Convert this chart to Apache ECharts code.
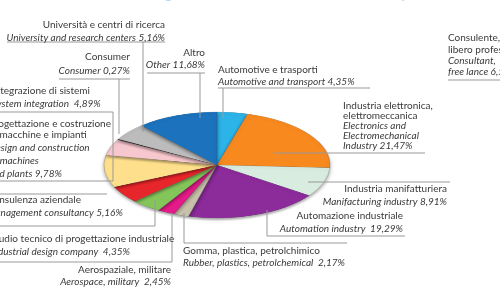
<!DOCTYPE html>
<html>
<head>
<meta charset="utf-8">
<script src="https://cdn.jsdelivr.net/npm/echarts@6/dist/echarts.min.js"></script>
<style>
  html, body { margin: 0; padding: 0; background: #fff; }
  #wrap { position: relative; width: 500px; height: 291px; overflow: hidden; }
  /* pie drawn round, then flattened to look tilted */
  #pie { position: absolute; left: 0; top: 0; width: 500px; height: 291px;
         transform-origin: 217px 165px; transform: scaleY(0.47); }
  #lab { position: absolute; left: 0; top: 0; width: 500px; height: 291px; }
</style>
</head>
<body>
<div id="wrap">
  <div id="pie"></div>
  <div id="lab"></div>
</div>
<script>
// slices, clockwise from 12 o'clock
var categories = ['Automotive e trasporti', 'Industria elettronica, elettromeccanica',
  'Industria manifatturiera', 'Automazione industriale', 'Gomma, plastica, petrolchimico',
  'Aerospaziale, militare', 'Studio tecnico di progettazione industriale', 'Consulenza aziendale',
  'Progettazione e costruzione di macchine e impianti', 'Integrazione di sistemi', 'Consumer',
  'Università e centri di ricerca', 'Altro'];
var values = [4.35, 21.47, 8.91, 19.29, 2.17, 2.45, 4.35, 5.16, 9.78, 4.89, 0.27, 5.16, 11.68];
var colors = ['#2cb4e8', '#f7891f', '#d8ece0', '#8c2b9a', '#c9c2ab', '#e41b89', '#84c55a',
  '#e7262b', '#fddf8c', '#f7c7ce', '#444444', '#bcbcbc', '#1c72bd'];

// label text per slice (italian lines, english lines; value goes after last english line)
var italianText = [
  ['Automotive e trasporti'],
  ['Industria elettronica,', 'elettromeccanica'],
  ['Industria manifatturiera'],
  ['Automazione industriale'],
  ['Gomma, plastica, petrolchimico'],
  ['Aerospaziale, militare'],
  ['Studio tecnico di progettazione industriale'],
  ['Consulenza aziendale'],
  ['Progettazione e costruzione', 'di macchine e impianti'],
  ['Integrazione di sistemi'],
  ['Consumer'],
  ['Università e centri di ricerca'],
  ['Altro']
];
var englishText = [
  ['Automotive and transport '],
  ['Electronics and', 'Electromechanical', 'Industry '],
  ['Manifacturing industry '],
  ['Automation industry  '],
  ['Rubber, plastics, petrolchemical  '],
  ['Aerospace, military  '],
  ['Industrial design company  '],
  ['Management consultancy '],
  ['Design and construction', 'of machines', 'and plants '],
  ['System integration  '],
  ['Consumer '],
  ['University and research centers '],
  ['Other ']
];

// the neighbouring chart, cut off at the right edge
var sideItalian = ['Consulente,', 'libero professionista'];
var sideEnglish = ['Consultant,', 'free lance '];
var sideValue = 6.52;

function pct(v) { return v.toFixed(2).replace('.', ',') + '%'; }

var pie = echarts.init(document.getElementById('pie'));
pie.setOption({
  animation: false,
  series: [{
    type: 'pie',
    center: [217, 165],
    radius: 113,
    startAngle: 90,
    clockwise: true,
    label: { show: false },
    labelLine: { show: false },
    itemStyle: { borderColor: 'rgba(70,70,70,0.45)', borderWidth: 0.6,
                 shadowColor: 'rgba(0,0,0,0.35)', shadowBlur: 4, shadowOffsetY: 4 },
    data: categories.map(function (c, i) {
      return { name: c, value: values[i], itemStyle: { color: colors[i] } };
    })
  }]
});

// where each label block sits: x, y of each line, alignment
var layout = [
  { x: 218, ys: [70, 82], align: 'left' },
  { x: 343, ys: [106, 116, 126, 136, 146], align: 'left' },
  { x: 447, ys: [189, 202], align: 'right' },
  { x: 403, ys: [216, 229], align: 'right' },
  { x: 183, ys: [251, 263], align: 'left' },
  { x: 171, ys: [270, 282], align: 'right' },
  { x: -10, ys: [239, 252], align: 'left' },
  { x: -13, ys: [200, 213], align: 'left' },
  { x: -11, ys: [124, 135, 148, 161, 174], align: 'left' },
  { x: -8, ys: [91, 104], align: 'left' },
  { x: 130, ys: [57, 71], align: 'right' },
  { x: 165, ys: [25, 38], align: 'right' },
  { x: 205, ys: [53, 65], align: 'right' }
];

// leader lines and rules
var leaders = [
  [[218, 88], [370, 88]], [[223, 88], [223, 118]],
  [[273, 153], [425, 153]],
  [[308, 182], [450, 182]],
  [[267, 210], [267, 236], [405, 236]],
  [[184, 213], [184, 243], [347, 243]],
  [[0, 262], [172, 262], [172, 213]],
  [[0, 194], [107, 194]],
  [[0, 226], [155, 226], [155, 200]],
  [[-1, 112], [113, 112], [113, 181], [-1, 181]],
  [[59, 79], [130, 79]], [[119, 79], [119, 134]],
  [[7, 42], [165, 42]], [[143, 42], [143, 132]],
  [[147, 73], [205, 73]], [[200, 73], [200, 118]],
  [[448, 80], [500, 80]]
];

var FONT = 'Lato, "Open Sans", sans-serif';
var elements = [];

function addText(str, x, y, align, italic) {
  elements.push({
    type: 'text', z: 10,
    style: { text: str, x: x, y: y, align: align, verticalAlign: 'middle',
             fill: '#3a3a3a', font: (italic ? 'italic ' : '') + '10px ' + FONT }
  });
}

categories.forEach(function (c, i) {
  var L = layout[i];
  var lines = italianText[i].slice();
  var en = englishText[i].slice();
  en[en.length - 1] = en[en.length - 1] + pct(values[i]);
  var k = 0;
  lines.forEach(function (t) { addText(t, L.x, L.ys[k++], L.align, false); });
  en.forEach(function (t) { addText(t, L.x, L.ys[k++], L.align, true); });
});

// side chart label
var sideY = [38, 50, 61, 72];
sideItalian.forEach(function (t, j) { addText(t, 448, sideY[j], 'left', false); });
sideEnglish.forEach(function (t, j) {
  addText(j === sideEnglish.length - 1 ? t + pct(sideValue) : t, 448, sideY[2 + j], 'left', true);
});

leaders.forEach(function (pts) {
  elements.push({
    type: 'polyline', z: 5,
    shape: { points: pts },
    style: { stroke: '#999999', lineWidth: 1, fill: null }
  });
});

// title of the page, cut off by the top edge
elements.push({
  type: 'text', z: 10,
  style: { text: 'Settori di attività degli associati  Members\' fields of activity', x: 225, y: -6,
           align: 'center', verticalAlign: 'middle', fill: '#b5d8f2', font: 'bold 14px ' + FONT }
});

var lab = echarts.init(document.getElementById('lab'));
lab.setOption({ animation: false, graphic: { elements: elements } });
</script>
</body>
</html>
